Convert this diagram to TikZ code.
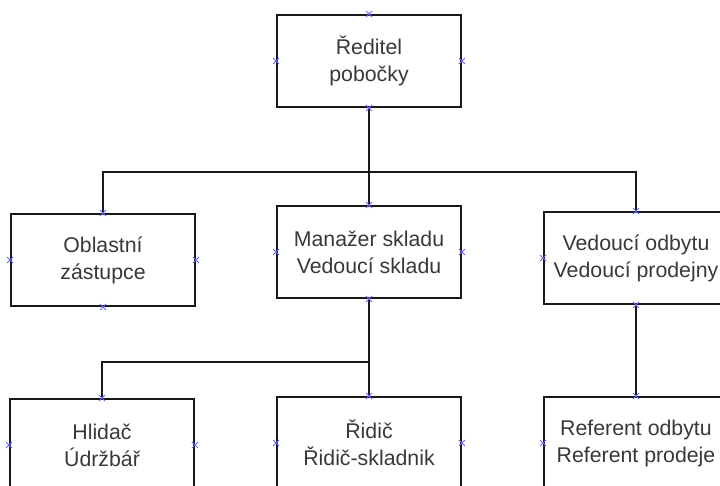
\documentclass[tikz,border=0pt]{standalone}
\usepackage{fontspec}
\setmainfont{Liberation Sans}
\begin{document}
\begin{tikzpicture}[x=1pt,y=-1pt,
    box/.style={draw=black!90, line width=1.8pt, minimum width=184pt, minimum height=92pt,
                inner sep=0pt, align=center, text=black!78, font=\fontsize{21.3}{27}\selectfont},
    link/.style={draw=black!90, line width=1.8pt},
    cross/.style={draw=blue!60!white, line width=0.9pt}]
    \useasboundingbox (0,0) rectangle (720,486);
    \clip (0,0) rectangle (720,486);

    % Boxes
    \node[box] (dir) at (369,61) {Ředitel\\pobočky};
    \node[box] (obl) at (103,260) {Oblastní\\zástupce};
    \node[box] (man) at (369,252) {Manažer skladu\\Vedoucí skladu};
    \node[box] (ved) at (636,258) {Vedoucí odbytu\\Vedoucí prodejny};
    \node[box] (hli) at (102,445) {Hlidač\\Údržbář};
    \node[box] (rid) at (369,443) {Řidič\\Řidič-skladnik};
    \node[box] (ref) at (636,443) {Referent odbytu\\Referent prodeje};

    % Connections
    \coordinate (bus1) at (369,172);
    \coordinate (bus2) at (369,362);
    \draw[link] (dir.south) -- (bus1) -| (obl.north);
    \draw[link] (bus1) -- (man.north);
    \draw[link] (bus1) -| (ved.north);
    \draw[link] (man.south) -- (bus2) -| (hli.north);
    \draw[link] (bus2) -- (rid.north);
    \draw[link] (ved.south) -- (ref.north);

    % Connection points
    \foreach \n in {dir,obl,man,ved,hli,rid,ref}
        \foreach \a in {north,south,east,west}
            \draw[cross] (\n.\a) +(-3,-3) -- +(3,3) +(-3,3) -- +(3,-3);
\end{tikzpicture}
\end{document}
